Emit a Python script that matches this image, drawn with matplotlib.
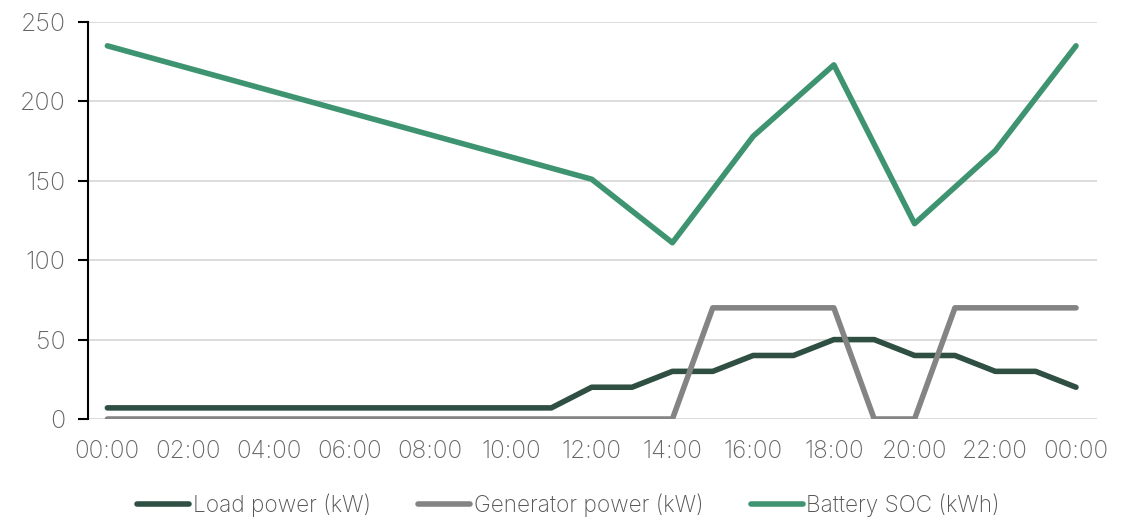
import matplotlib
matplotlib.use("Agg")
import matplotlib.pyplot as plt

# hourly series (00:00 .. next day 00:00)
hours = list(range(25))
load_kw = [7, 7, 7, 7, 7, 7, 7, 7, 7, 7, 7, 7, 20, 20, 30, 30, 40, 40, 50, 50, 40, 40, 30, 30, 20]
gen_kw = [0, 0, 0, 0, 0, 0, 0, 0, 0, 0, 0, 0, 0, 0, 0, 70, 70, 70, 70, 0, 0, 70, 70, 70, 70]

# battery SOC only read at the visible corner points
soc_hours = [0, 12, 14, 16, 18, 20, 22, 24]
soc_kwh = [235, 151, 111, 178, 223, 123, 169, 235]

tick_hours = list(range(0, 25, 2))
tick_labels = ["00:00", "02:00", "04:00", "06:00", "08:00", "10:00", "12:00",
               "14:00", "16:00", "18:00", "20:00", "22:00", "00:00"]

plt.rcParams['font.family'] = ['Inter', 'DejaVu Sans']
plt.rcParams['font.weight'] = 'light'

fig = plt.figure(figsize=(11.37, 5.21), dpi=100)
ax = fig.add_axes([88 / 1137, 102 / 521, (1097 - 88) / 1137, (419 - 22) / 521])

lw = 4.0
ax.plot(hours, load_kw, color="#2f4f43", lw=lw, label="Load power (kW)", solid_capstyle="round")
ax.plot(hours, gen_kw, color="#848484", lw=lw, label="Generator power (kW)", solid_capstyle="round")
ax.plot(soc_hours, soc_kwh, color="#3e9470", lw=lw, label="Battery SOC (kWh)", solid_capstyle="round")

ax.set_xlim(-0.48, 24.52)
ax.set_ylim(0, 250)
ax.set_yticks([0, 50, 100, 150, 200, 250])
ax.set_xticks(tick_hours)
ax.set_xticklabels(tick_labels)

ax.grid(axis="y", color="#d9d9d9", lw=1.3)
ax.set_axisbelow(True)
for s in ["top", "right", "bottom"]:
    ax.spines[s].set_visible(False)
ax.spines["left"].set_linewidth(1.5)
ax.spines["left"].set_color("black")

ax.tick_params(axis="y", direction="out", length=7, width=1.5, color="black",
               labelsize=18, labelcolor="#666666", pad=9)
ax.tick_params(axis="x", length=0, labelsize=17.5, labelcolor="#666666", pad=15)

fig.legend(loc="lower center", bbox_to_anchor=(0.5, -0.032), ncol=3, frameon=False,
           fontsize=16.3, labelcolor="#555555", handlelength=2.3, handletextpad=0.15,
           columnspacing=2.1)

fig.savefig("out.png", dpi=100)
